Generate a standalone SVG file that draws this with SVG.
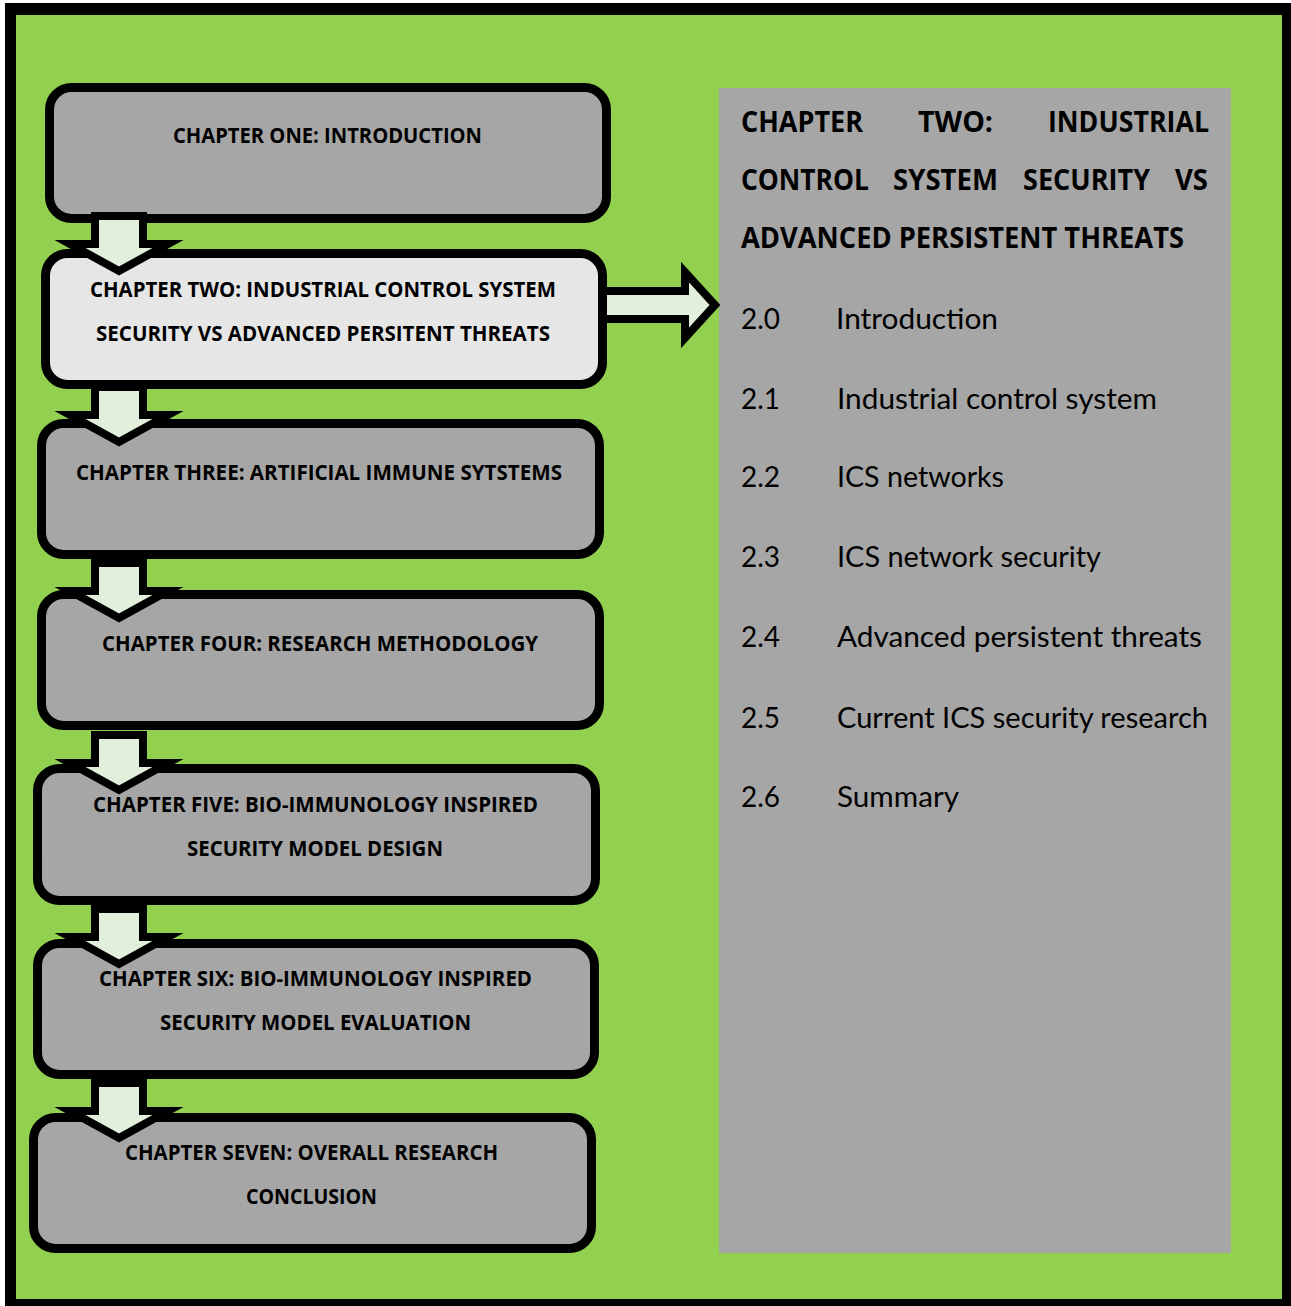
<svg xmlns="http://www.w3.org/2000/svg" width="1291" height="1306" viewBox="0 0 1291 1306">
  <style>
    .node { stroke: #000; stroke-width: 9; }
    .grey { fill: #A6A6A6; }
    .light { fill: #E6E6E6; }
    .lbl { font-family: "Open Sans", Lato, "Liberation Sans", sans-serif; font-weight: 700; font-size: 21px; fill: #000; }
    .head { font-family: "Open Sans", Lato, "Liberation Sans", sans-serif; font-weight: 700; font-size: 29px; fill: #000; }
    .item { font-family: Lato, "Open Sans", "Liberation Sans", sans-serif; font-weight: 400; font-size: 28px; fill: #000; }
    .arrow { fill: #E2EFDA; stroke: #000; stroke-width: 8; stroke-linejoin: miter; stroke-miterlimit: 10; }
  </style>
  <defs>
    <!-- block arrow pointing down; shaft top at y=0 -->
    <polygon id="down" points="95,0 143,0 143,28 168,28 119,55 70,28 95,28"/>
  </defs>

  <!-- page frame -->
  <rect x="0" y="0" width="1291" height="1306" fill="#FFFFFF"/>
  <rect x="5" y="3" width="1286" height="1303" fill="#000000"/>
  <rect x="16" y="15" width="1266" height="1284" fill="#92D050"/>

  <!-- chapter nodes -->
  <g id="ch1">
    <rect class="node grey" x="49.5" y="87.5" width="557" height="131" rx="22"/>
    <text class="lbl" x="173" y="143" textLength="309" lengthAdjust="spacingAndGlyphs">CHAPTER ONE: INTRODUCTION</text>
  </g>
  <g id="ch2">
    <rect class="node light" x="45.5" y="253.5" width="557" height="131" rx="22"/>
    <text class="lbl" x="90" y="297" textLength="466" lengthAdjust="spacingAndGlyphs">CHAPTER TWO: INDUSTRIAL CONTROL SYSTEM</text>
    <text class="lbl" x="96" y="341" textLength="454" lengthAdjust="spacingAndGlyphs">SECURITY VS  ADVANCED PERSITENT THREATS</text>
  </g>
  <g id="ch3">
    <rect class="node grey" x="41.5" y="423.5" width="558" height="131" rx="22"/>
    <text class="lbl" x="76" y="480" textLength="486" lengthAdjust="spacingAndGlyphs">CHAPTER THREE: ARTIFICIAL IMMUNE SYTSTEMS</text>
  </g>
  <g id="ch4">
    <rect class="node grey" x="41.5" y="594.5" width="558" height="131" rx="22"/>
    <text class="lbl" x="102" y="651" textLength="436" lengthAdjust="spacingAndGlyphs">CHAPTER FOUR: RESEARCH METHODOLOGY</text>
  </g>
  <g id="ch5">
    <rect class="node grey" x="37.5" y="768.5" width="558" height="132" rx="22"/>
    <text class="lbl" x="93" y="812" textLength="445" lengthAdjust="spacingAndGlyphs">CHAPTER FIVE: BIO-IMMUNOLOGY INSPIRED</text>
    <text class="lbl" x="187" y="856" textLength="256" lengthAdjust="spacingAndGlyphs">SECURITY MODEL DESIGN</text>
  </g>
  <g id="ch6">
    <rect class="node grey" x="37.5" y="943.5" width="557" height="131" rx="22"/>
    <text class="lbl" x="99" y="986" textLength="433" lengthAdjust="spacingAndGlyphs">CHAPTER SIX: BIO-IMMUNOLOGY INSPIRED</text>
    <text class="lbl" x="160" y="1030" textLength="311" lengthAdjust="spacingAndGlyphs">SECURITY MODEL EVALUATION</text>
  </g>
  <g id="ch7">
    <rect class="node grey" x="33.5" y="1117.5" width="558" height="131" rx="22"/>
    <text class="lbl" x="125" y="1160" textLength="373" lengthAdjust="spacingAndGlyphs">CHAPTER SEVEN: OVERALL RESEARCH</text>
    <text class="lbl" x="246" y="1204" textLength="131" lengthAdjust="spacingAndGlyphs">CONCLUSION</text>
  </g>

  <!-- chapter two contents panel -->
  <g id="contents">
    <rect x="719" y="88" width="512" height="1165" fill="#A6A6A6"/>
    <text class="head" x="741" y="132" textLength="122" lengthAdjust="spacingAndGlyphs">CHAPTER</text>
    <text class="head" x="918" y="132" textLength="75" lengthAdjust="spacingAndGlyphs">TWO:</text>
    <text class="head" x="1048" y="132" textLength="161" lengthAdjust="spacingAndGlyphs">INDUSTRIAL</text>
    <text class="head" x="741" y="190" textLength="128" lengthAdjust="spacingAndGlyphs">CONTROL</text>
    <text class="head" x="893" y="190" textLength="105" lengthAdjust="spacingAndGlyphs">SYSTEM</text>
    <text class="head" x="1023" y="190" textLength="127" lengthAdjust="spacingAndGlyphs">SECURITY</text>
    <text class="head" x="1175" y="190" textLength="33" lengthAdjust="spacingAndGlyphs">VS</text>
    <text class="head" x="741" y="248" textLength="443" lengthAdjust="spacingAndGlyphs">ADVANCED PERSISTENT THREATS</text>

    <text class="item" x="741" y="329" textLength="39" lengthAdjust="spacingAndGlyphs">2.0</text>
    <text class="item" x="836" y="329" textLength="162" lengthAdjust="spacingAndGlyphs">Introduction</text>
    <text class="item" x="741" y="409" textLength="39" lengthAdjust="spacingAndGlyphs">2.1</text>
    <text class="item" x="837" y="409" textLength="320" lengthAdjust="spacingAndGlyphs">Industrial control system</text>
    <text class="item" x="741" y="487" textLength="39" lengthAdjust="spacingAndGlyphs">2.2</text>
    <text class="item" x="837" y="487" textLength="167" lengthAdjust="spacingAndGlyphs">ICS networks</text>
    <text class="item" x="741" y="567" textLength="39" lengthAdjust="spacingAndGlyphs">2.3</text>
    <text class="item" x="837" y="567" textLength="264" lengthAdjust="spacingAndGlyphs">ICS network security</text>
    <text class="item" x="741" y="647" textLength="39" lengthAdjust="spacingAndGlyphs">2.4</text>
    <text class="item" x="837" y="647" textLength="365" lengthAdjust="spacingAndGlyphs">Advanced persistent threats</text>
    <text class="item" x="741" y="728" textLength="39" lengthAdjust="spacingAndGlyphs">2.5</text>
    <text class="item" x="837" y="728" textLength="371" lengthAdjust="spacingAndGlyphs">Current ICS security research</text>
    <text class="item" x="741" y="807" textLength="39" lengthAdjust="spacingAndGlyphs">2.6</text>
    <text class="item" x="837" y="807" textLength="122" lengthAdjust="spacingAndGlyphs">Summary</text>
  </g>

  <!-- connectors -->
  <g id="connectors">
    <use href="#down" class="arrow" transform="translate(0,216)"/>
    <use href="#down" class="arrow" transform="translate(0,387)"/>
    <use href="#down" class="arrow" transform="translate(0,563)"/>
    <use href="#down" class="arrow" transform="translate(0,735)"/>
    <use href="#down" class="arrow" transform="translate(0,909)"/>
    <use href="#down" class="arrow" transform="translate(0,1083)"/>
    <polygon class="arrow" points="603,291 685,291 685,272 715,305 685,338 685,319 603,319"/>
  </g>
</svg>
